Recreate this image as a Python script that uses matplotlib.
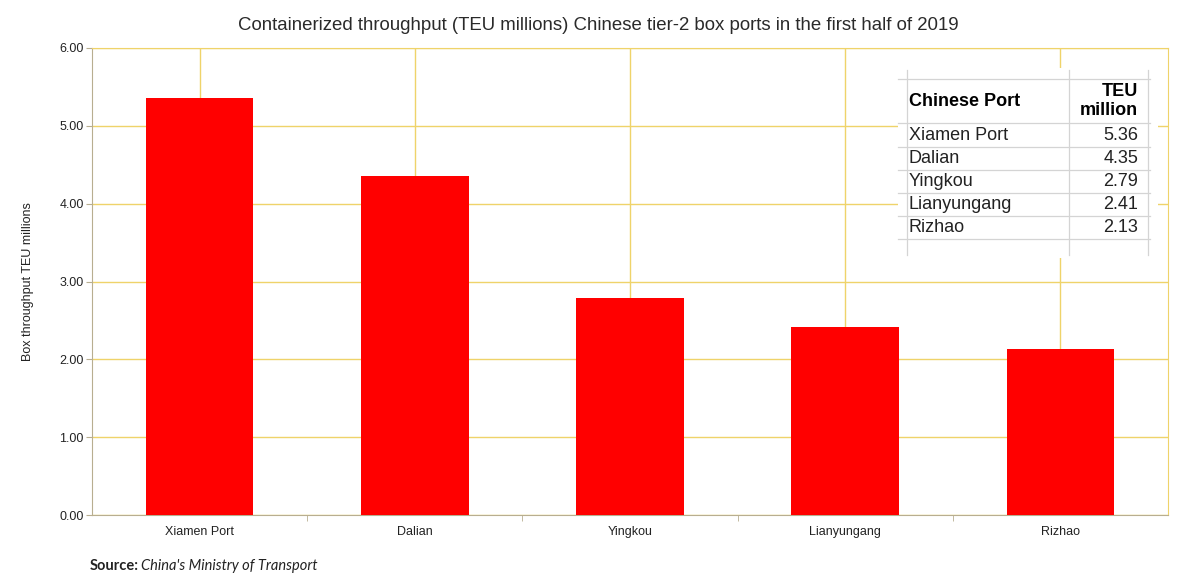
import matplotlib
matplotlib.use("Agg")
import matplotlib.pyplot as plt
from matplotlib.patches import Rectangle
from matplotlib.lines import Line2D

# data
ports = ["Xiamen Port", "Dalian", "Yingkou", "Lianyungang", "Rizhao"]
teu = [5.36, 4.35, 2.79, 2.41, 2.13]
yticks = [0, 1, 2, 3, 4, 5, 6]

W, H = 1194, 586
fig = plt.figure(figsize=(W / 100, H / 100), dpi=100)
plt.rcParams['font.family'] = ['Liberation Sans', 'DejaVu Sans']

grid_col = "#efd36a"
axis_col = "#b8ae90"
ax = fig.add_axes([92 / W, 1 - 515 / H, (1168 - 92) / W, (515 - 48) / H])
x = list(range(len(ports)))
ax.bar(x, teu, width=0.5, color="#ff0000", zorder=3)
ax.set_xlim(-0.5, len(ports) - 0.5)
ax.set_ylim(0, 6)
ax.set_yticks(yticks)
ax.set_yticklabels([f"{v:.2f}" for v in yticks], fontsize=9, color="#222222")
ax.set_xticks(x)
ax.set_xticklabels(ports, fontsize=9, color="#222222")
ax.set_xticks([i + 0.5 for i in x[:-1]], minor=True)
ax.tick_params(axis='x', which='major', length=0, pad=8)
ax.tick_params(axis='x', which='minor', length=4, color=axis_col, direction='out')
ax.tick_params(axis='y', length=4, color=axis_col, pad=2)
ax.grid(True, which='major', color=grid_col, linewidth=1, zorder=0)
ax.set_axisbelow(True)
for s in ["top", "right"]:
    ax.spines[s].set_color(grid_col)
for s in ["left", "bottom"]:
    ax.spines[s].set_color(axis_col)
ax.set_ylabel("Box throughput TEU millions", fontsize=9, color="#222222")
ax.yaxis.set_label_coords((34 - 92) / (1168 - 92), 0.5)

fig.text(598 / W, 1 - 26 / H,
         "Containerized throughput (TEU millions) Chinese tier-2 box ports in the first half of 2019",
         ha='center', va='center', fontsize=13.4, color="#2a2a2a")

# source note
fig.text(90 / W, 1 - 566 / H, "Source:", fontsize=10.5, fontweight='bold',
         family=['Lato', 'DejaVu Sans'], va='center', color="#222222")
fig.text(141 / W, 1 - 566 / H, "China's Ministry of Transport", fontsize=10.5, style='italic',
         family=['Lato', 'DejaVu Sans'], va='center', color="#222222")

# pasted table (pixel coords, y from top)
def px(xp, yp):
    return xp / W, 1 - yp / H

tcol = "#d4d4d4"
fig.add_artist(Rectangle(px(898, 258), (1158 - 898) / W, (258 - 68) / H,
                         transform=fig.transFigure, facecolor="white", edgecolor="none", zorder=5))
row_y = [79, 123, 147, 170, 193, 216, 239]
for yy in row_y:
    fig.add_artist(Line2D([px(898, 0)[0], px(1150, 0)[0]], [px(0, yy)[1]] * 2,
                          transform=fig.transFigure, color=tcol, lw=0.9, zorder=6))
for xx in [907, 1069, 1148]:
    fig.add_artist(Line2D([px(xx, 0)[0]] * 2, [px(0, 70)[1], px(0, 255)[1]],
                          transform=fig.transFigure, color=tcol, lw=0.9, zorder=6))

fig.text(*px(909, 101), "Chinese Port", fontsize=13, fontweight='bold', va='center', zorder=7)
fig.text(*px(1138, 101), "TEU\nmillion", fontsize=13, fontweight='bold', va='center',
         ha='right', linespacing=1.2, zorder=7)
for i, (p, v) in enumerate(zip(ports, teu)):
    yc = (row_y[i + 1] + row_y[i + 2]) / 2
    fig.text(*px(909, yc), p, fontsize=13, va='center', color="#222222", zorder=7)
    fig.text(*px(1138, yc), f"{v:.2f}", fontsize=13, va='center', ha='right', color="#222222", zorder=7)

fig.savefig("out.png", dpi=100)
